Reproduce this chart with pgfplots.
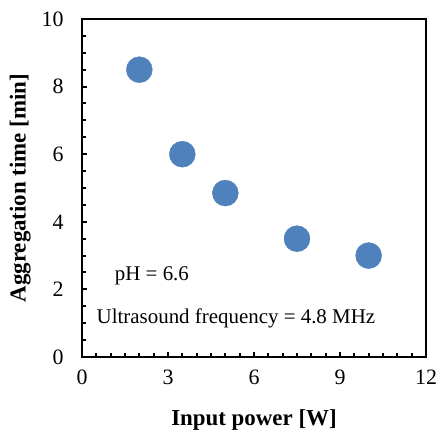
\documentclass[border=0pt]{standalone}
\usepackage{fontspec}
\setmainfont{Liberation Serif}
\usepackage{pgfplots}
\pgfplotsset{compat=1.18}
\definecolor{mblue}{RGB}{79,129,189}
\begin{document}
\begin{tikzpicture}
\path[use as bounding box] (0,0) rectangle (438bp,430bp);
\begin{axis}[
  at={(82bp,73bp)}, anchor=south west,
  scale only axis,
  width=344bp, height=338bp,
  xmin=0, xmax=12, ymin=0, ymax=10,
  xtick={0,3,6,9,12}, ytick={0,2,4,6,8,10},
  minor x tick num=5, minor y tick num=3,
  tick pos=left, tick align=inside,
  major tick length=5bp, minor tick length=4bp,
  every tick/.style={black, line width=2bp},
  axis line style={line width=2.5bp},
  /pgf/number format/assume math mode=true,
  ticklabel style={font=\fontsize{22}{26}\selectfont},
  xticklabel style={yshift=-9bp},
  yticklabel style={xshift=-15bp},
  xlabel={\textbf{Input power [W]}},
  ylabel={\textbf{Aggregation time [min]}},
  label style={font=\fontsize{23}{27}\selectfont},
  xlabel style={at={(axis description cs:0.5,-0.185)}, anchor=center},
  ylabel style={at={(axis description cs:-0.18,0.5)}, anchor=center},
  clip=false,
]
\addplot[only marks, mark=*, mark size=13bp, mark options={fill=mblue, draw=mblue}]
  coordinates {(2,8.5) (3.5,6.0) (5,4.85) (7.5,3.5) (10,3.0)};
\node[font=\fontsize{21}{25}\selectfont, anchor=center] at (axis cs:2.44,2.4) {pH = 6.6};
\node[font=\fontsize{21}{25}\selectfont, anchor=center] at (axis cs:5.37,1.15) {Ultrasound frequency = 4.8 MHz};
\end{axis}
\end{tikzpicture}
\end{document}
